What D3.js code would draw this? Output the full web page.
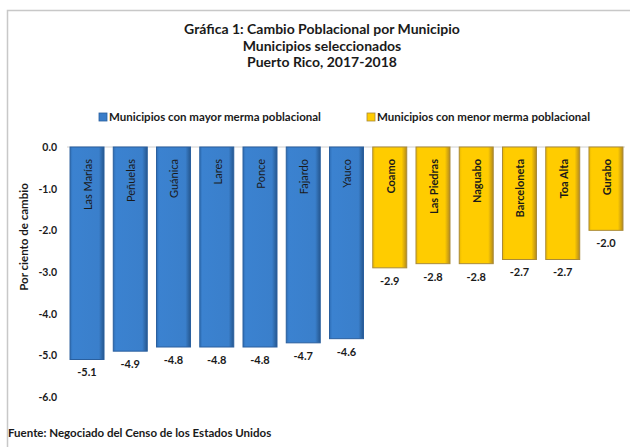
<!DOCTYPE html>
<html>
<head>
	<meta charset="UTF-8" />
	<title>Cambio Poblacional por Municipio</title>
	<script src="https://d3js.org/d3.v7.min.js"></script>
	<style type="text/css">
		body{margin:0; background:#fff;}
		text{font-family: Lato, "Noto Sans", sans-serif; fill:#1a1a1a;}
		.bold{font-weight:bold;}
	</style>
</head>
<body>
	<svg id="chart"></svg>

	<script type="text/javascript">
	// data
	var municipios = ["Las Marías", "Peñuelas", "Guánica", "Lares", "Ponce", "Fajardo", "Yauco",
		"Coamo", "Las Piedras", "Naguabo", "Barceloneta", "Toa Alta", "Gurabo"]
	var cambio = [-5.1, -4.9, -4.8, -4.8, -4.8, -4.7, -4.6, -2.9, -2.8, -2.8, -2.7, -2.7, -2.0]
	var grupo = ["mayor", "mayor", "mayor", "mayor", "mayor", "mayor", "mayor",
		"menor", "menor", "menor", "menor", "menor", "menor"]
	var yTicks = [0, -1, -2, -3, -4, -5, -6]
	var titulo = ["Gráfica 1: Cambio Poblacional por Municipio", "Municipios seleccionados", "Puerto Rico, 2017-2018"]
	var leyenda = ["Municipios con mayor merma poblacional", "Municipios con menor merma poblacional"]
	var fuente = "Fuente: Negociado del Censo de los Estados Unidos"

	var w = 630
	var h = 447

	var data = municipios.map((m, i) => ({name: m, value: cambio[i], grupo: grupo[i]}))
	var fmt = v => v.toFixed(1)   // plain hyphen like the original

	var svg = d3.select("#chart").attr("width", w).attr("height", h)

	// gradients for the bevelled bars
	var defs = svg.append("defs")
	function grad(id, stops){
		var g = defs.append("linearGradient").attr("id", id)
			.attr("x1", "0%").attr("x2", "100%").attr("y1", "0%").attr("y2", "0%")
		stops.forEach(s => g.append("stop").attr("offset", s[0]).attr("stop-color", s[1]))
	}
	grad("gBlue", [["0%", "#2f6fb6"], ["8%", "#3b82d0"], ["85%", "#3a7fcb"], ["100%", "#25578f"]])
	grad("gYellow", [["0%", "#e9b800"], ["8%", "#ffcc00"], ["85%", "#ffcc00"], ["100%", "#b48a1c"]])
	var fills = {mayor: "url(#gBlue)", menor: "url(#gYellow)"}
	var strokes = {mayor: "#2a5f9e", menor: "#a98a3a"}
	var legendFills = {mayor: "#3a7dc9", menor: "#ffcc00"}

	// outer frame
	svg.append("rect").attr("x", 7.5).attr("y", 10.5).attr("width", 640).attr("height", 460)
		.attr("fill", "none").attr("stroke", "#c8c8c8").attr("stroke-width", 1.5)

	// title
	svg.append("g").selectAll("text").data(titulo).enter().append("text")
		.attr("class", "bold")
		.attr("x", 322).attr("y", (d, i) => 34 + i * 16.5)
		.attr("text-anchor", "middle").style("font-size", "14px")
		.text(d => d)

	// scales
	var xScale = d3.scaleBand().domain(municipios).range([65.4, 627.6]).paddingInner(0.214).paddingOuter(0.107)
	var yScale = d3.scaleLinear().domain([0, -6]).range([147, 397])

	// zero line
	svg.append("line").attr("x1", 67).attr("x2", 625)
		.attr("y1", yScale(0)).attr("y2", yScale(0))
		.attr("stroke", "#d0d0d0").attr("stroke-width", 1)

	// y axis
	var yAxis = svg.append("g").attr("transform", "translate(60,0)")
		.call(d3.axisLeft(yScale).tickValues(yTicks).tickFormat(fmt).tickSize(0).tickPadding(3))
	yAxis.select(".domain").remove()
	yAxis.selectAll("text").attr("class", "bold").style("font-size", "10.5px")
		.style("font-family", "Lato, sans-serif").attr("fill", "#1a1a1a")

	svg.append("text").attr("class", "bold")
		.attr("transform", "translate(24,237) rotate(-90)")
		.attr("text-anchor", "middle").attr("dy", "0.35em").style("font-size", "11.5px")
		.text("Por ciento de cambio")

	// bars
	var bars = svg.append("g")
	bars.selectAll("rect").data(data).enter().append("rect")
		.attr("x", d => xScale(d.name))
		.attr("y", yScale(0))
		.attr("width", xScale.bandwidth())
		.attr("height", d => yScale(d.value) - yScale(0))
		.attr("fill", d => fills[d.grupo])
		.attr("stroke", d => strokes[d.grupo]).attr("stroke-width", 1)

	// category labels inside bars
	bars.selectAll(".cat").data(data).enter().append("text")
		.attr("class", d => d.grupo == "menor" ? "cat bold" : "cat")
		.attr("transform", d => "translate(" + (xScale(d.name) + xScale.bandwidth() / 2 + 1) + ",159) rotate(-90)")
		.attr("text-anchor", "end").attr("dy", "0.35em").style("font-size", "11px")
		.text(d => d.name)

	// value labels
	bars.selectAll(".val").data(data).enter().append("text")
		.attr("class", "val bold")
		.attr("x", d => xScale(d.name) + xScale.bandwidth() / 2)
		.attr("y", d => yScale(d.value) + 13)
		.attr("text-anchor", "middle").attr("dy", "0.35em").style("font-size", "11px")
		.text(d => fmt(d.value))

	// legend
	var legPos = [{x: 99, g: "mayor"}, {x: 367, g: "menor"}]
	legPos.forEach((p, i) => {
		svg.append("rect").attr("x", p.x).attr("y", 113).attr("width", 8).attr("height", 8)
			.attr("fill", legendFills[p.g]).attr("stroke", strokes[p.g]).attr("stroke-width", 0.8)
		svg.append("text").attr("class", "bold").attr("x", p.x + 10).attr("y", 117)
			.attr("dy", "0.35em").style("font-size", "11.5px").text(leyenda[i])
	})

	// source
	svg.append("text").attr("class", "bold").attr("x", 8).attr("y", 437)
		.style("font-size", "11.5px").text(fuente)
	</script>
</body>
</html>
